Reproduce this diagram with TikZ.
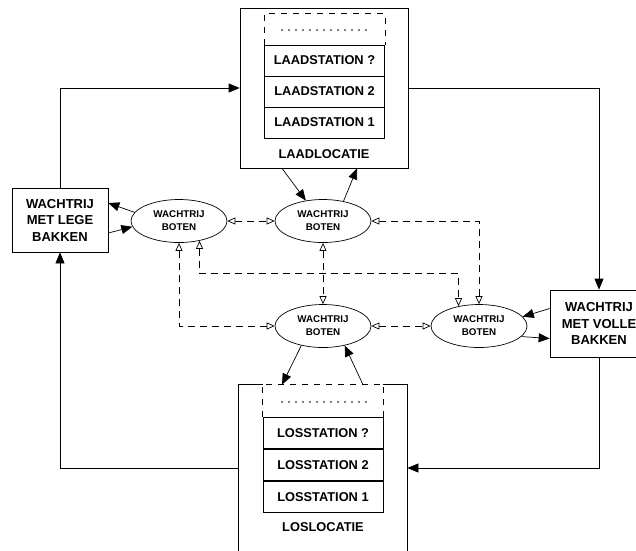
\documentclass[tikz,border=0pt]{standalone}
\usepackage{fontspec}
\setmainfont{Liberation Sans}
\usetikzlibrary{arrows.meta,shapes.geometric,calc}

\begin{document}
\begin{tikzpicture}[x=1pt,y=-1pt,line width=0.7pt,
  queue/.style={draw,rectangle,inner sep=0pt,align=center,
    font=\fontsize{13}{16.5}\selectfont\bfseries},
  boat/.style={draw,ellipse,minimum width=96pt,minimum height=43pt,inner sep=0pt,
    align=center,font=\fontsize{9.8}{13}\selectfont\bfseries},
  station/.style={draw,rectangle,minimum width=120pt,minimum height=31pt,inner sep=0pt,
    font=\fontsize{12.8}{15}\selectfont\bfseries},
  site/.style={rectangle,inner sep=0pt,minimum width=168pt},
  caption/.style={font=\fontsize{12.8}{15}\selectfont\bfseries},
  flow/.style={-{Triangle[length=11pt,width=9pt]}},
  link/.style={dash pattern=on 7pt off 5pt,
    {Triangle[open,length=8pt,width=7pt]}-{Triangle[open,length=8pt,width=7pt]}},
  headdash/.style={dash pattern=on 6pt off 6pt},
  dotrow/.style={line width=1.6pt,line cap=round,dash pattern=on 0pt off 7pt}]

\clip (0,0) rectangle (636,550);
\fill[white] (0,0) rectangle (636,550);

% loading site
\node[site,draw,minimum height=160pt] (laad) at (324,88) {};
\node[station] (la3) at (324.5,60.5) {LAADSTATION ?};
\node[station] (la2) at (324.5,91.5) {LAADSTATION 2};
\node[station] (la1) at (324.5,122.5) {LAADSTATION 1};
\draw[headdash] (la3.north west) -- ($(la3.north west)+(0,-31)$)
  -- ($(la3.north east)+(0,-31)$) -- (la3.north east);
\draw[dotrow] (282,30) -- (372,30);
\node[caption] (laadlbl) at (324,154) {LAADLOCATIE};

% unloading site
\node[site,minimum height=166pt] (los) at (323,468) {};
\node[station] (lo3) at (323,433) {LOSSTATION ?};
\node[station] (lo2) at (323,465) {LOSSTATION 2};
\node[station] (lo1) at (323,497) {LOSSTATION 1};
\draw (lo3.north west |- los.north) -- (los.north west) -- (los.south west)
  -- (los.south east) -- (los.north east) -- (lo3.north east |- los.north);
\draw[headdash] (lo3.north west) -- (lo3.north west |- los.north)
  -- (lo3.north east |- los.north) -- (lo3.north east);
\draw[dotrow] (282,402) -- (368,402);
\node[caption] (loslbl) at (323,527) {LOSLOCATIE};

% bucket queues
\node[queue,minimum width=96pt,minimum height=64pt] (lb) at (60,220)
  {WACHTRIJ\\MET LEGE\\BAKKEN};
\node[queue,minimum width=98pt,minimum height=67pt] (rb) at (599,323.5)
  {WACHTRIJ\\MET VOLLE\\BAKKEN};

% boat queues
\node[boat] (e1) at (179,221) {WACHTRIJ\\BOTEN};
\node[boat] (e2) at (323,221) {WACHTRIJ\\BOTEN};
\node[boat] (e3) at (323,326) {WACHTRIJ\\BOTEN};
\node[boat] (e4) at (479,326) {WACHTRIJ\\BOTEN};

% bucket flow
\draw[flow] (lb.north) |- (laad.west);
\draw[flow] (laad.east) -| (rb.north);
\draw[flow] (rb.south) |- (los.east);
\draw[flow] (los.west) -| (lb.south);

% boat flow
\draw[flow] (e1.169) -- ([yshift=17pt]lb.east);
\draw[flow] ([yshift=-13pt]lb.east) -- (e1.187);
\draw[flow] ([xshift=-42pt]laad.south) -- (e2.130);
\draw[flow] (e2.44) -- ([xshift=33pt]laad.south);
\draw[flow] (e3.222) -- ([xshift=-41pt]los.north);
\draw[flow] ([xshift=40pt]los.north) -- (e3.-42);
\draw[flow] ([yshift=15pt]rb.west) -- (e4.12);
\draw[flow] (e4.-14) -- ([yshift=-15pt]rb.west);

% links between boat queues
\coordinate (j1) at (330,273);
\draw[link] (e1.east) -- (e2.west);
\draw[link] (e2.east) -| (e4.north);
\draw[link] (e2.south) -- (e3.north);
\draw[link] (e1.-44) |- (j1) -| (e4.136);
\draw[link] (e1.south) |- (e3.west);
\draw[link] (e3.east) -- (e4.west);
\end{tikzpicture}
\end{document}
